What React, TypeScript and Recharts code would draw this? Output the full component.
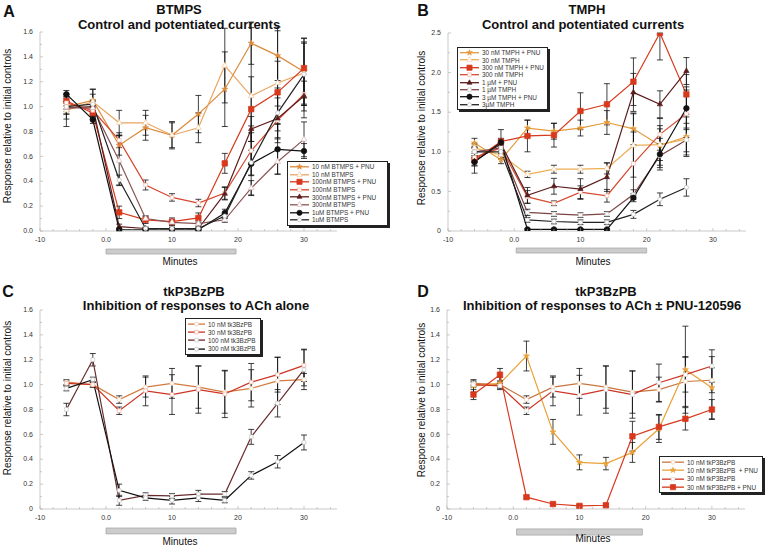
import React from 'react';
import {
  ComposedChart, Line, XAxis, YAxis, ErrorBar, ReferenceArea, Symbols,
} from 'recharts';

const FONT = '"Liberation Sans", Arial, Helvetica, sans-serif';

// shared x ticks (minor every 2 min, labels every 10)
const xTicks = [-10, -8, -6, -4, -2, 0, 2, 4, 6, 8, 10, 12, 14, 16, 18, 20, 22, 24, 26, 28, 30, 32, 34];
const yTicks16 = [0, 0.1, 0.2, 0.3, 0.4, 0.5, 0.6, 0.7, 0.8, 0.9, 1.0, 1.1, 1.2, 1.3, 1.4, 1.5, 1.6];
const yTicks25 = [0, 0.25, 0.5, 0.75, 1.0, 1.25, 1.5, 1.75, 2.0, 2.25, 2.5];

// ---- A: BTMPS
const timesA = [-6, -2, 2, 6, 10, 14, 18, 22, 26, 30];
const btmps10Pnu = [1.0, 1.05, 0.69, 0.83, 0.77, 0.94, 1.14, 1.51, 1.41, 1.28];
const btmps10 = [0.97, 1.04, 0.87, 0.87, 0.77, 0.83, 1.33, 1.085, 1.19, 1.27];
const btmps100Pnu = [1.045, 0.95, 0.15, 0.09, 0.075, 0.105, 0.544, 0.98, 1.115, 1.31];
const btmps100 = [1.03, 0.97, 0.73, 0.37, 0.27, 0.225, 0.305, 0.645, 0.89, 1.1];
const btmps300Pnu = [0.99, 1.0, 0.035, 0.02, 0.02, 0.02, 0.3, 0.82, 0.905, 1.085];
const btmps300 = [0.99, 0.99, 0.565, 0.1, 0.07, 0.06, 0.09, 0.345, 0.557, 0.737];
const btmps1uPnu = [1.1, 0.895, 0.01, 0.01, 0.01, 0.01, 0.145, 0.54, 0.657, 0.643];
const btmps1u = [1.0, 1.02, 0.41, 0.02, 0.02, 0.02, 0.12, 0.55, 0.95, 1.26];
const errA10Pnu = [0.04, 0.05, 0.08, 0.1, 0.1, 0.15, 0.3, 0.17, 0.2, 0.27];
const errA10 = [0.13, 0.1, 0.1, 0.1, 0.11, 0.12, 0.3, 0.55, 0.45, 0.25];
const errA100Pnu = [0.04, 0.03, 0.05, 0.03, 0.03, 0.04, 0.08, 0.26, 0.25, 0.24];
const errA100 = [0.05, 0.04, 0.06, 0.04, 0.03, 0.03, 0.05, 0.2, 0.18, 0.19];
const errA300Pnu = [0.05, 0.05, 0.02, 0.01, 0.01, 0.01, 0.05, 0.1, 0.1, 0.12];
const errA300 = [0.05, 0.05, 0.2, 0.02, 0.02, 0.02, 0.02, 0.06, 0.1, 0.14];
const errA1uPnu = [0.03, 0.03, 0.01, 0.01, 0.01, 0.01, 0.03, 0.25, 0.2, 0.06];
const errA1u = [0.1, 0.12, 0.04, 0.01, 0.01, 0.01, 0.02, 0.1, 0.2, 0.25];

// ---- B: TMPH
const timesB = [-6, -2, 2, 6, 10, 14, 18, 22, 26];
const tmph30Pnu = [1.11, 0.9, 1.3, 1.26, 1.3, 1.37, 1.29, 1.08, 1.19];
const tmph30 = [1.05, 0.96, 0.715, 0.78, 0.78, 0.79, 1.08, 1.09, 1.16];
const tmph300Pnu = [0.9, 1.13, 1.2, 1.21, 1.515, 1.6, 1.885, 2.5, 1.725];
const tmph300 = [0.93, 1.05, 0.43, 0.35, 0.49, 0.445, 0.85, 1.22, 1.48];
const tmph1uPnu = [0.88, 1.1, 0.45, 0.565, 0.53, 0.68, 1.75, 1.6, 2.02];
const tmph1u = [1.0, 1.05, 0.235, 0.215, 0.2, 0.215, 0.46, 0.95, 1.15];
const tmph3uPnu = [0.87, 1.12, 0.02, 0.02, 0.02, 0.02, 0.42, 0.97, 1.55];
const tmph3u = [1.0, 1.0, 0.14, 0.12, 0.11, 0.11, 0.21, 0.4, 0.55];
const errB30Pnu = [0.06, 0.05, 0.1, 0.1, 0.1, 0.15, 0.2, 0.25, 0.25];
const errB30 = [0.05, 0.05, 0.04, 0.05, 0.05, 0.07, 0.4, 0.2, 0.2];
const errB300Pnu: (number | number[])[] = [0.17, 0.15, 0.2, 0.15, 0.23, 0.26, 0.3, [0.34, 0], 0.25];
const errB300 = [0.05, 0.05, 0.08, 0.03, 0.08, 0.08, 0.4, 0.2, 0.3];
const errB1uPnu = [0.05, 0.05, 0.1, 0.1, 0.13, 0.18, 0.24, 0.17, 0.17];
const errB1u = [0.05, 0.05, 0.04, 0.03, 0.03, 0.03, 0.06, 0.15, 0.15];
const errB3uPnu = [0.05, 0.05, 0.01, 0.01, 0.01, 0.01, 0.05, 0.2, 0.27];
const errB3u = [0.05, 0.05, 0.03, 0.03, 0.03, 0.03, 0.05, 0.08, 0.11];

// ---- C: tkP3BzPB alone
const timesC = [-6, -2, 2, 6, 10, 14, 18, 22, 26, 30];
const tkC10 = [1.02, 1.0, 0.88, 0.98, 1.01, 0.98, 0.94, 0.97, 1.03, 1.04];
const tkC30 = [1.01, 1.0, 0.79, 0.95, 0.92, 0.96, 0.925, 1.02, 1.08, 1.155];
const tkC100 = [0.8, 1.2, 0.07, 0.11, 0.105, 0.12, 0.12, 0.58, 0.85, 1.12];
const tkC300 = [0.97, 1.04, 0.15, 0.09, 0.07, 0.09, 0.07, 0.27, 0.38, 0.535];
const errC10 = [0.02, 0.02, 0.03, 0.08, 0.12, 0.17, 0.17, 0.15, 0.19, 0.05];
const errC30 = [0.02, 0.02, 0.03, 0.12, 0.16, 0.19, 0.19, 0.15, 0.14, 0.13];
const errC100 = [0.05, 0.05, 0.04, 0.02, 0.02, 0.03, 0.02, 0.06, 0.11, 0.16];
const errC300 = [0.02, 0.02, 0.05, 0.02, 0.03, 0.03, 0.02, 0.03, 0.05, 0.06];

// ---- D: tkP3BzPB ± PNU
const timesD = [-6, -2, 2, 6, 10, 14, 18, 22, 26, 30];
const tkD10 = [1.01, 1.0, 0.88, 0.98, 1.01, 0.98, 0.94, 0.96, 1.025, 1.035];
const tkD10Pnu = [0.99, 1.01, 1.23, 0.62, 0.375, 0.365, 0.455, 0.645, 1.12, 0.975];
const tkD30 = [1.0, 0.99, 0.79, 0.95, 0.915, 0.96, 0.92, 1.015, 1.08, 1.15];
const tkD30Pnu = [0.92, 1.08, 0.095, 0.04, 0.025, 0.03, 0.585, 0.66, 0.725, 0.8];
const errD10 = [0.02, 0.02, 0.03, 0.08, 0.12, 0.17, 0.17, 0.1, 0.2, 0.1];
const errD10Pnu = [0.05, 0.05, 0.12, 0.1, 0.06, 0.05, 0.08, 0.11, 0.35, 0.25];
const errD30 = [0.02, 0.02, 0.03, 0.12, 0.16, 0.19, 0.19, 0.15, 0.14, 0.13];
const errD30Pnu = [0.04, 0.05, 0.01, 0.01, 0.01, 0.01, 0.12, 0.1, 0.09, 0.08];

// drug application window (minutes, then y band below axis)
const windowA = [0, 19.7, -0.145, -0.185];
const windowB = [0.3, 20, -0.215, -0.278];
const windowC = [0, 19.7, -0.153, -0.2];
const windowD = [0.5, 19.5, -0.16, -0.21];

type Mk = 'star' | 'square' | 'triangle' | 'circle';
type Series = {
  name: string; values: number[]; errors: (number | number[])[]; color: string;
  marker: Mk; open?: boolean; edge?: string; size?: number;
};

const seriesA: Series[] = [
  { name: '10 nM BTMPS + PNU', values: btmps10Pnu, errors: errA10Pnu, color: '#dc8a3c', marker: 'star', size: 11 },
  { name: '10 nM BTMPS', values: btmps10, errors: errA10, color: '#eaa45e', marker: 'triangle', open: true, edge: '#f2c89c' },
  { name: '100nM BTMPS + PNU', values: btmps100Pnu, errors: errA100Pnu, color: '#d8381c', marker: 'square', size: 30 },
  { name: '100nM BTMPS', values: btmps100, errors: errA100, color: '#d5452c', marker: 'square', open: true, edge: '#f0b4a4' },
  { name: '300nM BTMPS + PNU', values: btmps300Pnu, errors: errA300Pnu, color: '#5e1c1c', marker: 'triangle', size: 12 },
  { name: '300nM BTMPS', values: btmps300, errors: errA300, color: '#8a5555', marker: 'triangle', open: true, edge: '#d4b8b8' },
  { name: '1uM BTMPS + PNU', values: btmps1uPnu, errors: errA1uPnu, color: '#111', marker: 'circle', size: 24 },
  { name: '1uM BTMPS', values: btmps1u, errors: errA1u, color: '#222', marker: 'circle', open: true, edge: '#bbb' },
];

const seriesB: Series[] = [
  { name: '30 nM TMPH + PNU', values: tmph30Pnu, errors: errB30Pnu, color: '#e39a3a', marker: 'star', size: 11 },
  { name: '30 nM TMPH', values: tmph30, errors: errB30, color: '#edae55', marker: 'triangle', open: true, edge: '#f4d0a0' },
  { name: '300 nM TMPH + PNU', values: tmph300Pnu, errors: errB300Pnu, color: '#d8381c', marker: 'square', size: 30 },
  { name: '300 nM TMPH', values: tmph300, errors: errB300, color: '#d64a30', marker: 'square', open: true, edge: '#f0b4a4' },
  { name: '1 µM + PNU', values: tmph1uPnu, errors: errB1uPnu, color: '#5a1c1c', marker: 'triangle', size: 12 },
  { name: '1 µM TMPH', values: tmph1u, errors: errB1u, color: '#7e4545', marker: 'square', open: true, edge: '#c8c8c8' },
  { name: '3 µM TMPH + PNU', values: tmph3uPnu, errors: errB3uPnu, color: '#111', marker: 'circle', size: 24 },
  { name: '3µM TMPH', values: tmph3u, errors: errB3u, color: '#222', marker: 'circle', open: true, edge: '#bbb' },
];

const seriesC: Series[] = [
  { name: '10 nM tk3BzPB', values: tkC10, errors: errC10, color: '#d27b3e', marker: 'circle', open: true, edge: '#f0c8a8' },
  { name: '30 nM tk3BzPB', values: tkC30, errors: errC30, color: '#cc3322', marker: 'square', open: true, edge: '#f0b0a0' },
  { name: '100 nM tk3BzPB', values: tkC100, errors: errC100, color: '#6b2b2b', marker: 'square', open: true, edge: '#c8c8c8' },
  { name: '300 nM tk3BzPB', values: tkC300, errors: errC300, color: '#111', marker: 'circle', open: true, edge: '#bbb' },
];

const seriesD: Series[] = [
  { name: '10 nM tkP3BzPB', values: tkD10, errors: errD10, color: '#c8763e', marker: 'circle', open: true, edge: '#f0c8a8' },
  { name: '10 nM tkP3BzPB  + PNU', values: tkD10Pnu, errors: errD10Pnu, color: '#e8a23a', marker: 'star', size: 11 },
  { name: '30 nM tkP3BzPB', values: tkD30, errors: errD30, color: '#cc3322', marker: 'square', open: true, edge: '#d8d8d8' },
  { name: '30 nM tkP3BzPB + PNU', values: tkD30Pnu, errors: errD30Pnu, color: '#d8381c', marker: 'square', size: 30 },
];

function Marker({ cx, cy, s, scale = 1 }: { cx: number; cy: number; s: Series; scale?: number }) {
  const size = (s.size ?? 14) * scale;
  return (
    <Symbols
      cx={cx} cy={cy} type={s.marker} size={size}
      fill={s.open ? '#fff' : s.color}
      stroke={s.open ? s.edge : s.color}
      strokeWidth={0.7}
    />
  );
}

function XTick({ x, y, payload }: any) {
  const v = payload.value;
  const major = v % 10 === 0;
  const ay = y - 6;
  return (
    <g>
      <line x1={x} x2={x} y1={ay} y2={ay - (major ? 3 : 2)} stroke="#aaa" strokeWidth={0.6} />
      {major && (
        <text x={x} y={y} dy="0.71em" textAnchor="middle" fontSize={7} fill="#333" fontFamily={FONT}>
          {v === 0 ? '0.0' : v}
        </text>
      )}
    </g>
  );
}

function makeYTick(step: number, fmt: (v: number) => string) {
  return function YTick({ x, y, payload }: any) {
    const v = payload.value;
    const major = Math.abs(v / step - Math.round(v / step)) < 1e-6;
    const ax = x + 7;
    return (
      <g>
        <line x1={ax} x2={ax + (major ? 3 : 2)} y1={y} y2={y} stroke="#aaa" strokeWidth={0.6} />
        {major && (
          <text x={x} y={y} dy="0.32em" textAnchor="end" fontSize={7} fill="#333" fontFamily={FONT}>
            {fmt(v)}
          </text>
        )}
      </g>
    );
  };
}

const fmtA = (v: number) => v.toFixed(1);
const fmtZero = (v: number) => (v === 0 ? '0' : v.toFixed(1));

function LegendBox({ series, left, top, width, rowH, lineW }: {
  series: Series[]; left: number; top: number; width: number; rowH: number; lineW: number;
}) {
  return (
    <div style={{
      position: 'absolute', left, top, width, background: '#fff', border: '1px solid #222',
      boxShadow: '2px 2px 0 #222', padding: '1px 2px', fontFamily: FONT, fontSize: 6.4,
      color: '#333', boxSizing: 'border-box',
    }}>
      {series.map((s) => (
        <div key={s.name} style={{ display: 'flex', alignItems: 'center', height: rowH, whiteSpace: 'pre' }}>
          <svg width={lineW} height={rowH} style={{ flex: 'none', marginRight: 3 }}>
            <line x1={0} x2={lineW} y1={rowH / 2} y2={rowH / 2} stroke={s.color} strokeWidth={1.3} />
            <Marker cx={lineW / 2} cy={rowH / 2} s={s} scale={0.9} />
          </svg>
          <span>{s.name}</span>
        </div>
      ))}
    </div>
  );
}

type PanelProps = {
  left: number; top: number; width: number; height: number;
  margin: { top: number; right: number; bottom: number; left: number };
  times: number[]; series: Series[];
  yDomain: [number, number]; yTicks: number[]; yStep: number; yFmt: (v: number) => string;
  win: number[];
};

function Panel(p: PanelProps) {
  const rows = p.times.map((t, i) => {
    const r: any = { t };
    p.series.forEach((s, k) => { r['v' + k] = s.values[i]; r['e' + k] = s.errors[i]; });
    return r;
  });
  const YTick = makeYTick(p.yStep, p.yFmt);
  return (
    <div style={{ position: 'absolute', left: p.left, top: p.top, width: p.width, height: p.height }}>
      <ComposedChart width={p.width} height={p.height} data={rows} margin={p.margin}>
        <XAxis
          dataKey="t" type="number" domain={[-10, 35]} ticks={xTicks} interval={0}
          tickLine={false} tickSize={0} tickMargin={6} height={15}
          axisLine={{ stroke: '#bbb', strokeWidth: 0.8 }} tick={<XTick />} allowDataOverflow
        />
        <YAxis
          type="number" domain={p.yDomain} ticks={p.yTicks} interval={0}
          tickLine={false} tickSize={0} tickMargin={7} width={28}
          axisLine={{ stroke: '#bbb', strokeWidth: 0.8 }} tick={<YTick />} allowDataOverflow
        />
        <ReferenceArea
          x1={p.win[0]} x2={p.win[1]} y1={p.win[2]} y2={p.win[3]}
          fill="#cccccc" fillOpacity={1} stroke="#a8a8a8" strokeWidth={0.8} ifOverflow="visible"
        />
        {p.series.map((s, k) => (
          <Line
            key={s.name} dataKey={'v' + k} name={s.name} type="linear"
            stroke={s.color} strokeWidth={1.2} isAnimationActive={false} activeDot={false}
            dot={(d: any) => <Marker key={d.index} cx={d.cx} cy={d.cy} s={s} />}
          >
            <ErrorBar dataKey={'e' + k} width={3} stroke="#111" strokeWidth={0.8} direction="y" isAnimationActive={false} />
          </Line>
        ))}
      </ComposedChart>
    </div>
  );
}

function Txt({ x, y, size, bold, rotate, children }: any) {
  return (
    <div style={{
      position: 'absolute', left: x, top: y, transform: `translate(-50%, -50%)${rotate ? ' rotate(-90deg)' : ''}`,
      fontSize: size, fontWeight: bold ? 700 : 400, whiteSpace: 'nowrap', fontFamily: FONT, lineHeight: 1, color: '#111',
    }}>
      {children}
    </div>
  );
}

const YLABEL = 'Response relative to initial controls';

export default function App() {
  return (
    <div style={{ position: 'absolute', left: 0, top: 0, width: 778, height: 547, background: '#fff', overflow: 'hidden' }}>
      <Panel
        left={0} top={0} width={390} height={270}
        margin={{ top: 32, right: 53, bottom: 24, left: 12 }}
        times={timesA} series={seriesA} yDomain={[0, 1.6]} yTicks={yTicks16} yStep={0.2} yFmt={fmtA}
        win={windowA}
      />
      <Panel
        left={390} top={0} width={388} height={270}
        margin={{ top: 33, right: 32, bottom: 24, left: 30 }}
        times={timesB} series={seriesB} yDomain={[0, 2.5]} yTicks={yTicks25} yStep={0.5} yFmt={fmtZero}
        win={windowB}
      />
      <Panel
        left={0} top={270} width={390} height={277}
        margin={{ top: 40, right: 53, bottom: 23, left: 12 }}
        times={timesC} series={seriesC} yDomain={[0, 1.6]} yTicks={yTicks16} yStep={0.2} yFmt={fmtZero}
        win={windowC}
      />
      <Panel
        left={390} top={270} width={388} height={277}
        margin={{ top: 40, right: 33, bottom: 23, left: 29 }}
        times={timesD} series={seriesD} yDomain={[0, 1.6]} yTicks={yTicks16} yStep={0.2} yFmt={fmtZero}
        win={windowD}
      />

      <LegendBox series={seriesA} left={287} top={161} width={101} rowH={7.6} lineW={19} />
      <LegendBox series={seriesB} left={457} top={47} width={91} rowH={7.4} lineW={19} />
      <LegendBox series={seriesC} left={185} top={318} width={76} rowH={8.2} lineW={17} />
      <LegendBox series={seriesD} left={659} top={456} width={104} rowH={8.3} lineW={22} />

      <Txt x={9} y={12} size={16} bold>A</Txt>
      <Txt x={179} y={9} size={13} bold>BTMPS</Txt>
      <Txt x={179} y={24} size={13} bold>Control and potentiated currents</Txt>
      <Txt x={8} y={126} size={10} rotate>{YLABEL}</Txt>
      <Txt x={180} y={262} size={10}>Minutes</Txt>

      <Txt x={423} y={11} size={16} bold>B</Txt>
      <Txt x={587} y={9} size={13} bold>TMPH</Txt>
      <Txt x={583} y={24} size={13} bold>Control and potentiated currents</Txt>
      <Txt x={422} y={128} size={10} rotate>{YLABEL}</Txt>
      <Txt x={593} y={262} size={10}>Minutes</Txt>

      <Txt x={8} y={292} size={16} bold>C</Txt>
      <Txt x={194} y={291} size={13} bold>tkP3BzPB</Txt>
      <Txt x={196} y={305} size={13} bold>Inhibition of responses to ACh alone</Txt>
      <Txt x={8} y={398} size={10} rotate>{YLABEL}</Txt>
      <Txt x={180} y={542} size={10}>Minutes</Txt>

      <Txt x={423} y={292} size={16} bold>D</Txt>
      <Txt x={606} y={291} size={13} bold>tkP3BzPB</Txt>
      <Txt x={602} y={305} size={13} bold>Inhibition of responses to ACh ± PNU-120596</Txt>
      <Txt x={422} y={400} size={10} rotate>{YLABEL}</Txt>
      <Txt x={593} y={539} size={10}>Minutes</Txt>
    </div>
  );
}
